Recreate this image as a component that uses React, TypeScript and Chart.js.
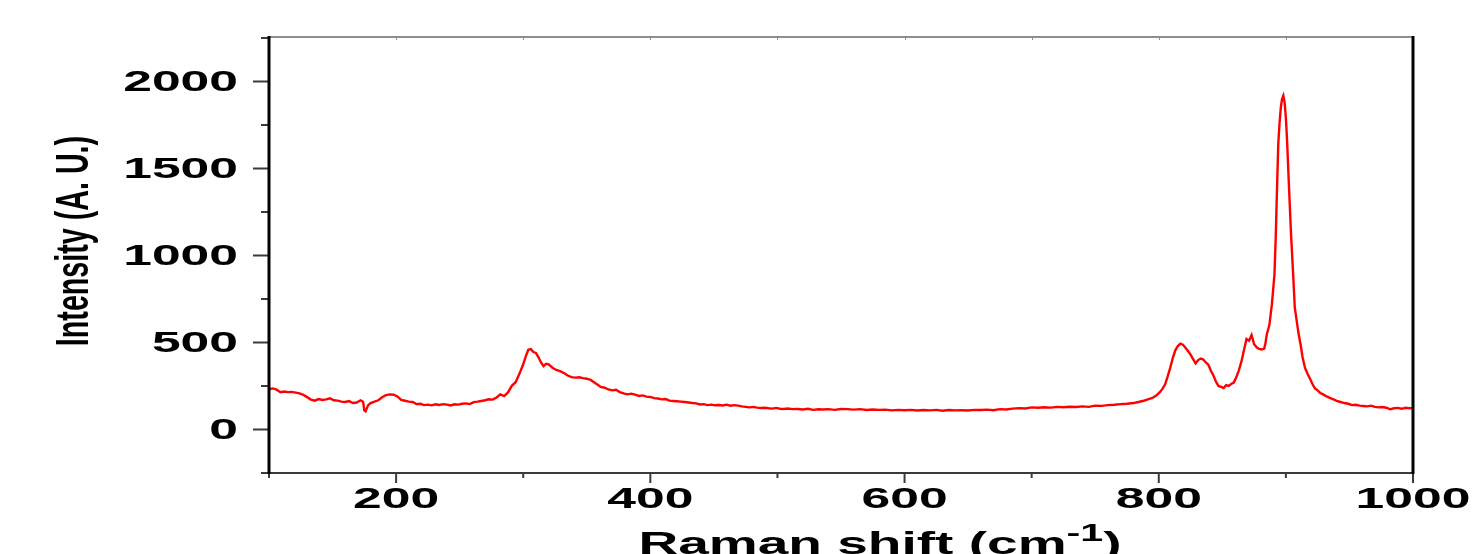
import React, { useEffect, useRef } from "react";
import { Chart, registerables } from "chart.js";

Chart.register(...registerables);

const ramanShift = [
  100, 103, 106, 109, 112, 115, 118, 121, 124, 127, 130, 133, 136, 139, 142, 145, 148, 151, 154, 157,
  160, 163, 166, 169, 172, 174, 175, 176, 178, 180, 183, 186, 189, 192, 195, 198, 201, 204, 207, 210,
  213, 216, 219, 222, 225, 228, 231, 234, 237, 240, 243, 246, 249, 252, 255, 258, 261, 264, 267, 270,
  273, 276, 279, 282, 285, 288, 291, 294, 297, 300, 302, 304, 306, 308, 310, 312, 314, 316, 318, 320,
  323, 326, 329, 332, 335, 338, 341, 344, 347, 350, 353, 356, 358, 361, 364, 367, 370, 373, 376, 379,
  382, 385, 388, 391, 394, 397, 400, 403, 406, 409, 412, 415, 418, 421, 424, 427, 430, 433, 436, 439,
  442, 445, 448, 451, 454, 457, 460, 463, 466, 469, 472, 475, 478, 481, 484, 487, 490, 493, 496, 499,
  502, 505, 508, 512, 516, 520, 524, 528, 532, 536, 540, 545, 550, 555, 560, 565, 570, 575, 580, 585,
  590, 595, 600, 605, 610, 615, 620, 625, 630, 635, 640, 645, 650, 655, 660, 665, 670, 675, 680, 685,
  690, 695, 700, 705, 710, 715, 720, 725, 730, 735, 740, 745, 750, 755, 760, 765, 770, 775, 780, 784,
  788, 792, 795, 798, 801, 803, 805, 807, 809, 811, 813, 815, 817, 819, 821, 823, 825, 827, 829, 831,
  833, 835, 837, 839, 841, 843, 845, 847, 849, 851, 853, 855, 857, 859, 861, 863, 865, 867, 869, 871,
  873, 875, 877, 879, 881, 883, 884, 885, 887, 889, 891, 892, 893, 894, 895, 896, 897, 898, 899, 900,
  901, 902, 903, 904, 905, 906, 907, 909, 910, 912, 913, 915, 917, 919, 921, 923, 925, 927, 929, 932,
  935, 937, 940, 943, 946, 949, 952, 955, 958, 961, 964, 967, 970, 973, 976, 979, 982, 985, 988, 991,
  994, 997, 1000,
];

const intensity = [
  231, 236, 229, 214, 218, 215, 216, 212, 208, 199, 186, 172, 166, 175, 170, 173, 179, 168, 166, 160,
  158, 163, 152, 155, 168, 160, 110, 104, 140, 152, 160, 168, 185, 198, 202, 200, 190, 170, 165, 160,
  158, 146, 148, 140, 143, 139, 145, 141, 146, 143, 138, 145, 143, 148, 150, 146, 157, 160, 164, 168,
  174, 172, 184, 202, 192, 213, 251, 272, 320, 375, 420, 458, 462, 445, 440, 415, 385, 364, 378, 375,
  355, 342, 335, 325, 310, 301, 298, 300, 295, 292, 285, 270, 260, 245, 240, 230, 225, 228, 215, 208,
  202, 206, 200, 193, 196, 189, 187, 180, 178, 173, 175, 166, 164, 162, 160, 158, 155, 152, 150, 144,
  146, 140, 143, 139, 141, 138, 143, 137, 140, 137, 133, 130, 127, 130, 126, 124, 125, 122, 120, 124,
  119, 118, 121, 117, 118, 115, 119, 113, 116, 115, 117, 113, 118, 117, 114, 117, 112, 115, 113, 114,
  110, 113, 111, 113, 109, 112, 110, 113, 108, 112, 110, 111, 109, 113, 112, 114, 111, 117, 115, 120,
  123, 121, 127, 125, 128, 126, 130, 128, 131, 129, 133, 130, 137, 136, 140, 142, 146, 148, 152, 158,
  165, 175, 181, 195, 216, 235, 260, 305, 354, 410, 455, 480, 493, 487, 470, 451, 430, 405, 380, 399,
  408, 402, 385, 372, 338, 310, 275, 250, 245, 238, 255, 250, 262, 270, 300, 340, 390, 455, 520, 510,
  543, 490, 472, 463, 460, 465, 500, 548, 600, 720, 890, 1100, 1380, 1640, 1760, 1850, 1900, 1919, 1880, 1790,
  1650, 1470, 1300, 1130, 990, 850, 700, 600, 550, 470, 420, 355, 320, 292, 260, 235, 225, 210, 203, 190,
  180, 174, 165, 158, 152, 148, 140, 142, 137, 135, 133, 137, 130, 127, 129, 125, 116, 122, 124, 119,
  125, 122, 123,
];

const xMajorTicks = [200, 400, 600, 800, 1000];
const xMinorTicks = [100, 300, 500, 700, 900];
const yMajorTicks = [0, 500, 1000, 1500, 2000];
const yMinorTicks = [-250, 250, 750, 1250, 1750, 2250];
const xTitleMain = "Raman shift (cm";
const xTitleSup = "-1";
const xTitleEnd = ")";
const yTitle = "Intensity (A. U.)";

const STRETCH = 1.72;
const TICK_FONT = "bold 30px 'Liberation Sans', Arial, sans-serif";
const TITLE_FONT = "bold 32px 'Liberation Sans', Arial, sans-serif";
const SUP_FONT = "bold 24px 'Liberation Sans', Arial, sans-serif";

const axesPlugin = {
  id: "originAxes",
  afterDraw(chart: any) {
    const ctx = chart.ctx as CanvasRenderingContext2D;
    const { left, right, top, bottom } = chart.chartArea;
    const xs = chart.scales.x;
    const ys = chart.scales.y;
    ctx.save();
    ctx.lineCap = "butt";

    // top frame
    ctx.strokeStyle = "#8e8e8e";
    ctx.lineWidth = 2;
    ctx.beginPath();
    ctx.moveTo(left, top - 1);
    ctx.lineTo(right, top - 1);
    ctx.stroke();
    [...xMajorTicks, ...xMinorTicks].forEach((v) => {
      const px = Math.round(xs.getPixelForValue(v)) + 0.5;
      ctx.lineWidth = 1;
      ctx.beginPath();
      ctx.moveTo(px, top - 1);
      ctx.lineTo(px, top + 2);
      ctx.stroke();
    });

    // bottom axis
    ctx.strokeStyle = "#3a3a3a";
    ctx.lineWidth = 2;
    ctx.beginPath();
    ctx.moveTo(left, bottom);
    ctx.lineTo(right, bottom);
    ctx.stroke();
    xMajorTicks.forEach((v) => {
      const px = xs.getPixelForValue(v);
      ctx.beginPath();
      ctx.moveTo(px, bottom);
      ctx.lineTo(px, bottom + 10);
      ctx.stroke();
    });
    xMinorTicks.forEach((v) => {
      const px = xs.getPixelForValue(v);
      ctx.beginPath();
      ctx.moveTo(px, bottom);
      ctx.lineTo(px, bottom + 5);
      ctx.stroke();
    });

    // y ticks
    yMajorTicks.forEach((v) => {
      const py = ys.getPixelForValue(v);
      ctx.beginPath();
      ctx.moveTo(left, py);
      ctx.lineTo(left - 16, py);
      ctx.stroke();
    });
    yMinorTicks.forEach((v) => {
      const py = ys.getPixelForValue(v);
      ctx.beginPath();
      ctx.moveTo(left, py);
      ctx.lineTo(left - 8, py);
      ctx.stroke();
    });

    // left & right axes
    ctx.strokeStyle = "#000";
    ctx.lineWidth = 3;
    ctx.beginPath();
    ctx.moveTo(left, top - 2);
    ctx.lineTo(left, bottom + 1);
    ctx.moveTo(right, top - 2);
    ctx.lineTo(right, bottom + 1);
    ctx.stroke();

    // tick labels
    ctx.fillStyle = "#000";
    ctx.font = TICK_FONT;
    ctx.textBaseline = "middle";
    yMajorTicks.forEach((v) => {
      const py = ys.getPixelForValue(v);
      ctx.save();
      ctx.translate(left - 31, py + 1);
      ctx.scale(STRETCH, 1);
      ctx.textAlign = "right";
      ctx.fillText(String(v), 0, 0);
      ctx.restore();
    });
    xMajorTicks.forEach((v) => {
      const px = xs.getPixelForValue(v);
      ctx.save();
      ctx.translate(px, bottom + 27);
      ctx.scale(STRETCH, 1);
      ctx.textAlign = "center";
      ctx.fillText(String(v), 0, 0);
      ctx.restore();
    });

    // x title with superscript
    ctx.textBaseline = "alphabetic";
    ctx.textAlign = "left";
    ctx.font = TITLE_FONT;
    const w1 = ctx.measureText(xTitleMain).width;
    const w3 = ctx.measureText(xTitleEnd).width;
    ctx.font = SUP_FONT;
    const w2 = ctx.measureText(xTitleSup).width;
    const total = (w1 + w2 + w3) * STRETCH;
    const cx = 880;
    const baseY = 554;
    ctx.save();
    ctx.translate(cx - total / 2, baseY);
    ctx.scale(STRETCH, 1);
    ctx.font = TITLE_FONT;
    ctx.fillText(xTitleMain, 0, 0);
    ctx.font = SUP_FONT;
    ctx.fillText(xTitleSup, w1, -13);
    ctx.font = TITLE_FONT;
    ctx.fillText(xTitleEnd, w1 + w2, 0);
    ctx.restore();

    // y title (condensed, rotated)
    ctx.save();
    ctx.translate(88, 241);
    ctx.rotate(-Math.PI / 2);
    ctx.scale(0.61, 1);
    ctx.font = "bold 47px 'Liberation Sans', Arial, sans-serif";
    ctx.textAlign = "center";
    ctx.textBaseline = "alphabetic";
    ctx.fillText(yTitle, 0, 0);
    ctx.restore();

    ctx.restore();
  },
};

export default function App() {
  const ref = useRef<HTMLCanvasElement | null>(null);
  useEffect(() => {
    if (!ref.current) return;
    const points = ramanShift.map((x, i) => ({ x, y: intensity[i] }));
    const chart = new Chart(ref.current, {
      type: "line",
      data: {
        datasets: [
          {
            data: points,
            borderColor: "#ff0000",
            borderWidth: 2.4,
            pointRadius: 0,
            tension: 0,
            fill: false,
          },
        ],
      },
      options: {
        responsive: false,
        animation: false,
        layout: { padding: { left: 269, right: 60, top: 38, bottom: 81 } },
        plugins: { legend: { display: false }, tooltip: { enabled: false } },
        scales: {
          x: { type: "linear", min: 100, max: 1000, display: false },
          y: { type: "linear", min: -250, max: 2250, display: false },
        },
      },
      plugins: [axesPlugin],
    });
    return () => chart.destroy();
  }, []);
  return (
    <div style={{ position: "absolute", left: 0, top: 0, width: 1473, height: 554, background: "#fff" }}>
      <canvas ref={ref} width={1473} height={554} style={{ display: "block" }} />
    </div>
  );
}
